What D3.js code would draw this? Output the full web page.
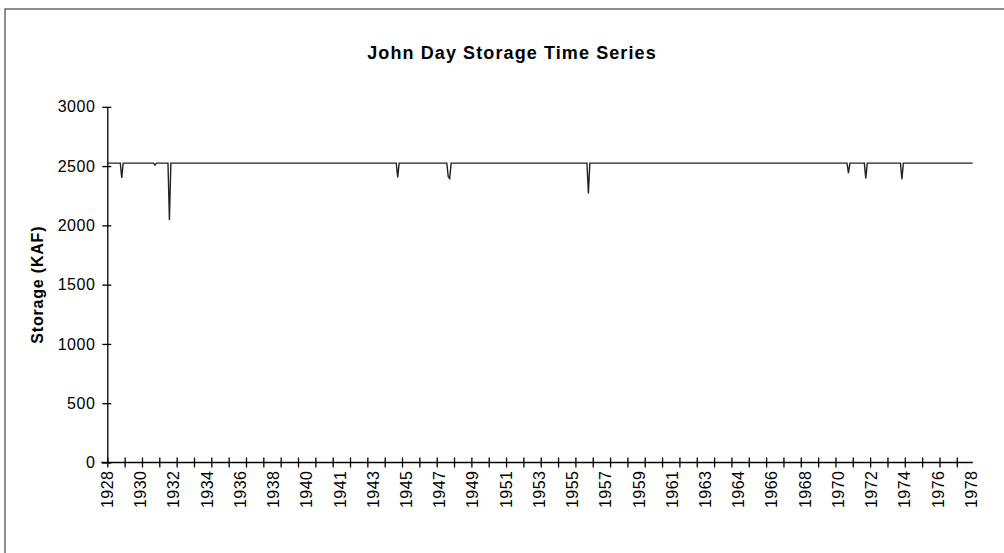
<!DOCTYPE html>
<html>
<head>
<meta charset="utf-8">
<script src="https://cdn.jsdelivr.net/npm/d3@7"></script>
<style>
  body { margin: 0; background: #fff; }
  svg { display: block; font-family: "Liberation Sans", Arial, Helvetica, sans-serif; }
  .axis path, .axis line { stroke: #000; stroke-width: 1.3; }
</style>
</head>
<body>
<div class="storage-plot"></div>
<script>
// DATA - monthly storage, only the months where the line bends are listed
const firstMonth = "1928-07";
const lastMonth = "1978-06";
const months = ["1928-07","1929-04","1929-05","1929-06","1931-03","1931-04","1931-05",
  "1932-01","1932-02","1932-03","1945-03","1945-04","1945-05","1948-02","1948-03",
  "1948-04","1948-05","1956-03","1956-04","1956-05","1971-03","1971-04","1971-05",
  "1972-03","1972-04","1972-05","1974-04","1974-05","1974-06","1978-06"];
const storage = [2525,2525,2400,2525,2525,2508,2525,
  2525,2045,2525,2525,2405,2525,2525,2410,
  2395,2525,2525,2270,2525,2525,2440,2525,
  2525,2395,2525,2525,2390,2525,2525];
const yTicks = [0, 500, 1000, 1500, 2000, 2500, 3000];
const xLabels = ["1928","1930","1932","1934","1936","1938","1940","1941","1943","1945",
  "1947","1949","1951","1953","1955","1957","1959","1961","1963","1964","1966","1968",
  "1970","1972","1974","1976","1978"];
const labelEvery = 23; // categories between labels
const tickEvery = 12;  // categories between tick marks

//CHART INIT
let outerWidth = 1004, outerHeight = 553;
let svg = d3.select('.storage-plot').append('svg')
    .attr('width', outerWidth)
    .attr('height', outerHeight);

// frame of the scanned page
svg.append('rect')
    .attr('x', 5).attr('y', 9)
    .attr('width', 1020).attr('height', 560)
    .attr('fill', 'none').attr('stroke', '#444').attr('stroke-width', 1.2);

function monthIndex(s) {
  let [y, m] = s.split('-').map(Number);
  let [y0, m0] = firstMonth.split('-').map(Number);
  return (y - y0) * 12 + (m - m0);
}
const nMonths = monthIndex(lastMonth);

const xScale = d3.scaleLinear().domain([0, nMonths]).range([107.3, 972.7]);
const yScale = d3.scaleLinear().domain([0, 3000]).range([462.5, 106.8]);

// y axis, ticks crossing the line
let yAxis = svg.append('g')
    .attr('class', 'axis y-axis')
    .attr('transform', `translate(${xScale(0)},0)`)
    .call(d3.axisLeft(yScale).tickValues(yTicks).tickFormat(d3.format('d'))
      .tickSize(5).tickSizeOuter(0).tickPadding(7));
yAxis.selectAll('.tick line').attr('x1', 4);
yAxis.selectAll('.tick text')
    .attr('font-size', 16).attr('letter-spacing', 0.5).attr('fill', '#000')
    .style('font-family', '"Liberation Sans", Arial, sans-serif');

// x axis: tick per year, labels every 23 months
let tickVals = d3.range(0, nMonths + 1, tickEvery);
let xAxis = svg.append('g')
    .attr('class', 'axis x-axis')
    .attr('transform', `translate(0,${yScale(0)})`)
    .call(d3.axisBottom(xScale).tickValues(tickVals).tickFormat('').tickSize(5).tickSizeOuter(0));
xAxis.selectAll('.tick line').attr('y1', -5);
xAxis.select('.domain').attr('d', `M${xScale(0) - 6},0H${xScale(nMonths)}`);

svg.append('g')
    .selectAll('text')
    .data(xLabels)
    .enter()
    .append('text')
    .attr('transform', (d, i) => `translate(${xScale(i * labelEvery)},${yScale(0) + 8}) rotate(-90)`)
    .attr('dy', '0.35em')
    .attr('text-anchor', 'end')
    .attr('font-size', 16)
    .attr('letter-spacing', 0.5)
    .text(d => d);

// series
let series = months.map((m, i) => ({ t: monthIndex(m), v: storage[i] }));
svg.append('path')
    .datum(series)
    .attr('fill', 'none')
    .attr('stroke', '#222')
    .attr('stroke-width', 1.4)
    .attr('d', d3.line().x(d => xScale(d.t)).y(d => yScale(d.v)));

// titles
svg.append('text')
    .attr('x', 512).attr('y', 59)
    .attr('text-anchor', 'middle')
    .attr('font-size', 18).attr('font-weight', 'bold').attr('letter-spacing', 1.1)
    .text('John Day Storage Time Series');

svg.append('text')
    .attr('transform', `translate(43,${(yScale(0) + yScale(3000)) / 2}) rotate(-90)`)
    .attr('text-anchor', 'middle')
    .attr('font-size', 16).attr('font-weight', 'bold').attr('letter-spacing', 0.8)
    .text('Storage (KAF)');
</script>
</body>
</html>
